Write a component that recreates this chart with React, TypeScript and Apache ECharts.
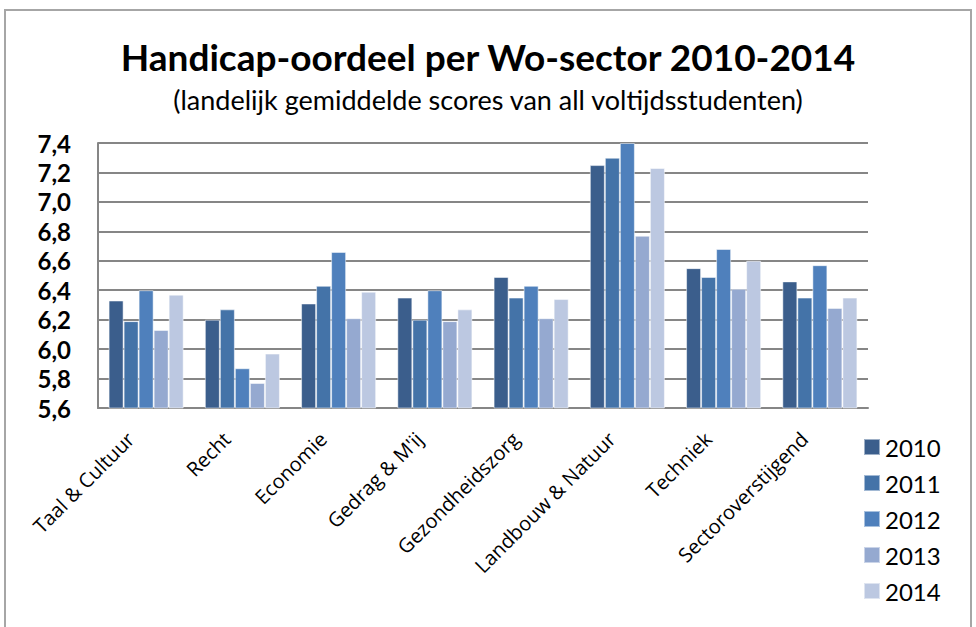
import React, { useEffect, useRef } from "react";
import * as echarts from "echarts";

const categories = [
  "Taal & Cultuur",
  "Recht",
  "Economie",
  "Gedrag & M'ij",
  "Gezondheidszorg",
  "Landbouw & Natuur",
  "Techniek",
  "Sectoroverstijgend",
];
const years = ["2010", "2011", "2012", "2013", "2014"];
const s2010 = [6.33, 6.2, 6.31, 6.35, 6.49, 7.25, 6.55, 6.46];
const s2011 = [6.19, 6.27, 6.43, 6.2, 6.35, 7.3, 6.49, 6.35];
const s2012 = [6.4, 5.87, 6.66, 6.4, 6.43, 7.4, 6.68, 6.57];
const s2013 = [6.13, 5.77, 6.21, 6.19, 6.21, 6.77, 6.41, 6.28];
const s2014 = [6.37, 5.97, 6.39, 6.27, 6.34, 7.23, 6.6, 6.35];
const seriesValues = [s2010, s2011, s2012, s2013, s2014];
const colors = ["#3B5E8C", "#4473A8", "#4F80BC", "#95A9D0", "#BCC8E1"];

const FONT = "Lato, 'Open Sans', sans-serif";
const LABEL_FONT = "'Open Sans', sans-serif";

export default function App() {
  const ref = useRef<HTMLDivElement>(null);
  useEffect(() => {
    if (!ref.current) return;
    const chart = echarts.init(ref.current, null, { renderer: "svg" });
    chart.setOption({
      animation: false,
      backgroundColor: "#ffffff",
      title: {
        text: "Handicap-oordeel per Wo-sector 2010-2014",
        subtext: "(landelijk gemiddelde scores van all voltijdsstudenten)",
        left: "center",
        top: 33,
        itemGap: 11,
        textStyle: { fontFamily: FONT, fontWeight: "bold", fontSize: 37, color: "#000" },
        subtextStyle: { fontFamily: FONT, fontSize: 27, color: "#000" },
      },
      graphic: [
        {
          type: "rect",
          shape: { x: 5, y: 10, width: 966, height: 640 },
          style: { fill: "none", stroke: "#A6A6A6", lineWidth: 2 },
          silent: true,
        },
      ],
      legend: {
        orient: "vertical",
        left: 858,
        top: 430,
        itemWidth: 16,
        itemHeight: 16,
        itemGap: 12,
        icon: "rect",
        data: years,
        textStyle: { fontFamily: FONT, fontSize: 24, color: "#000", padding: [0, 0, 0, 0] },
      },
      grid: { left: 98, right: 108, top: 143, height: 265, containLabel: false },
      xAxis: {
        type: "category",
        data: categories,
        axisLine: { show: true, lineStyle: { color: "#868686", width: 2 } },
        axisTick: { show: false },
        axisLabel: {
          rotate: 45,
          interval: 0,
          margin: 12,
          padding: [0, 22, 0, 0],
          fontFamily: LABEL_FONT,
          fontSize: 20,
          color: "#000",
        },
      },
      yAxis: {
        type: "value",
        min: 5.6,
        max: 7.4,
        interval: 0.2,
        axisLine: { show: true, lineStyle: { color: "#868686", width: 2 } },
        axisTick: { show: false },
        splitLine: { show: true, lineStyle: { color: "#868686", width: 2 } },
        axisLabel: {
          fontFamily: FONT,
          fontWeight: "bold",
          fontSize: 24,
          color: "#000",
          margin: 27,
          formatter: (v: number) => v.toFixed(1).replace(".", ","),
        },
      },
      series: years.map((y, i) => ({
        name: y,
        type: "bar",
        data: seriesValues[i],
        barGap: "0%",
        barCategoryGap: "22%",
        itemStyle: { color: colors[i], borderColor: "rgba(255,255,255,0.5)", borderWidth: 1 },
      })),
    });
    return () => chart.dispose();
  }, []);
  return (
    <div
      ref={ref}
      style={{ position: "fixed", left: 0, top: 0, width: 976, height: 627 }}
    />
  );
}
